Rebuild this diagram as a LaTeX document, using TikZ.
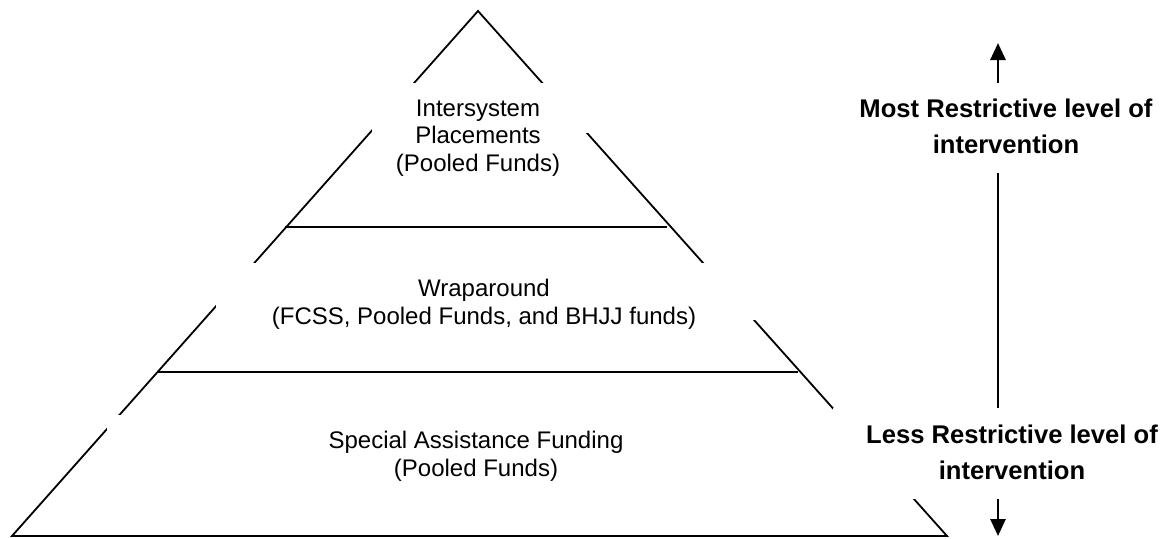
\documentclass[tikz,border=0pt]{standalone}
\usepackage{fontspec}
\setmainfont{Liberation Sans}
\usetikzlibrary{arrows.meta}
\begin{document}
\begin{tikzpicture}[x=1pt,y=-1pt,
  edge/.style={line width=1.8pt},
  mask/.style={fill=white,draw=none},
  tier/.style={align=center,inner sep=0pt,font=\fontsize{24}{27.5}\selectfont},
  scalelabel/.style={align=center,inner sep=0pt,font=\fontsize{25.6}{36}\selectfont\bfseries},
  scalearrow/.style={line width=2.8pt,
    {Triangle[width=15pt,length=17pt]}-{Triangle[width=15pt,length=17pt]}}]
\useasboundingbox (0,0) rectangle (1167,538);
% pyramid outline and tier dividers
\coordinate (apex) at (478,11);
\coordinate (bl) at (12,536);
\coordinate (br) at (947,536);
\draw[edge] (bl) -- (apex) -- (br) -- cycle;
\coordinate (d1l) at (285,227); \coordinate (d1r) at (667,227);
\coordinate (d2l) at (158,372); \coordinate (d2r) at (798,372);
\draw[edge] (d1l) -- (d1r);
\draw[edge] (d2l) -- (d2r);
% restrictiveness scale
\coordinate (top) at (998,43);
\coordinate (bot) at (998,536);
\draw[scalearrow] (bot) -- (top);
% white text frames laid over the lines
\fill[mask] (372,83) rectangle (600,133);
\fill[mask] (216,263) rectangle (760,320);
\fill[mask] (107,415) rectangle (800,500);
\fill[mask] (833,408) rectangle (1167,499);
\fill[mask] (850,83) rectangle (1167,173);
% labels (base anchor sits on the last line)
\node[tier,anchor=base] (t1) at (478,171) {Intersystem\\Placements\\(Pooled Funds)};
\node[tier,anchor=base] (t2) at (484,324) {Wraparound\\(FCSS, Pooled Funds, and BHJJ funds)};
\node[tier,anchor=base] (t3) at (476,476) {Special Assistance Funding\\(Pooled Funds)};
\node[scalelabel,anchor=base] (most) at (1006,153) {Most Restrictive level of\\intervention};
\node[scalelabel,anchor=base] (less) at (1012,479) {Less Restrictive level of\\intervention};
\end{tikzpicture}
\end{document}
